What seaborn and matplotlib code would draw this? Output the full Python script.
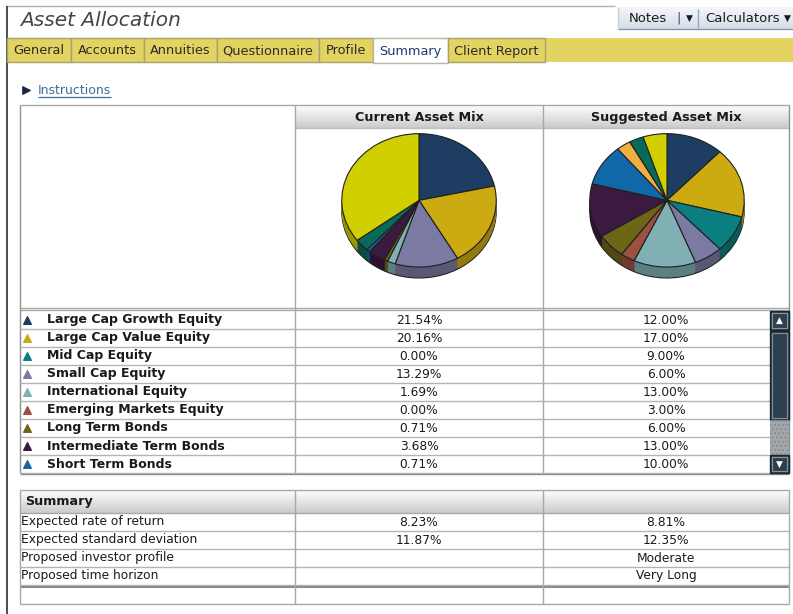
import numpy as np
import matplotlib
matplotlib.use("Agg")
import matplotlib.pyplot as plt
import matplotlib.colors as mcolors
from matplotlib.patches import Rectangle
import seaborn as sns

# ---------------- data ----------------
categories = ["Large Cap Growth Equity", "Large Cap Value Equity", "Mid Cap Equity",
              "Small Cap Equity", "International Equity", "Emerging Markets Equity",
              "Long Term Bonds", "Intermediate Term Bonds", "Short Term Bonds",
              "Other class A", "Other class B", "Other class C"]
current_mix = [21.54, 20.16, 0.00, 13.29, 1.69, 0.00, 0.71, 3.68, 0.71, 0.00, 3.00, 35.22]
suggested_mix = [12.00, 17.00, 9.00, 6.00, 13.00, 3.00, 6.00, 13.00, 10.00, 3.00, 3.00, 5.00]
class_colors = ["#1d3d63", "#cbaa12", "#0b7f7f", "#7b7aa3", "#80b0b4", "#9c5140",
                "#6c6616", "#3c1a40", "#1168a8", "#f0b040", "#0a6a5a", "#d2cf00"]
n_visible = 9  # rows visible in the scrolled list

tabs = ["General", "Accounts", "Annuities", "Questionnaire", "Profile", "Summary", "Client Report"]
active_tab = "Summary"
column_titles = ["Current Asset Mix", "Suggested Asset Mix"]
summary_labels = ["Expected rate of return", "Expected standard deviation",
                  "Proposed investor profile", "Proposed time horizon"]
summary_current = ["8.23%", "11.87%", "", ""]
summary_suggested = ["8.81%", "12.35%", "Moderate", "Very Long"]

# ---------------- figure ----------------
sns.set_theme(style="white")
plt.rcParams["font.family"] = ["DejaVu Sans"]
W, H = 793, 614
fig = plt.figure(figsize=(W / 100, H / 100), dpi=100)
fig.patch.set_facecolor("white")
bg = fig.add_axes([0, 0, 1, 1])
bg.set_xlim(0, W)
bg.set_ylim(H, 0)
bg.axis("off")
bg.set_autoscale_on(False)

GRID = "#a8a8a8"
TXT = "#1a1a1a"


def line(x0, y0, x1, y1, c=GRID, lw=1.0, z=3):
    bg.plot([x0, x1], [y0, y1], color=c, lw=lw, zorder=z, solid_capstyle="butt")


def rect(x0, y0, x1, y1, fc, ec="none", lw=1.0, z=2, **kw):
    bg.add_patch(Rectangle((x0, y0), x1 - x0, y1 - y0, facecolor=fc, edgecolor=ec,
                           lw=lw, zorder=z, **kw))


def grad(x0, x1, y0, y1, ctop, cbot, z=2):
    a = np.array(mcolors.to_rgb(ctop))
    b = np.array(mcolors.to_rgb(cbot))
    t = np.linspace(0, 1, 40)[:, None]
    img = (a * (1 - t) + b * t)[:, None, :]
    bg.imshow(img, extent=(x0, x1, y1, y0), aspect="auto", interpolation="bilinear",
              zorder=z)


# outer frame
line(6, 6, 615, 6, c="#b0b0b0")
line(6.5, 6, 6.5, H, c="#303030", lw=1.2)

# title
bg.text(20, 21, "Asset Allocation", fontsize=14.5, fontstyle="italic", color="#454545",
        va="center", ha="left", zorder=5)

# Notes / Calculators buttons
grad(618, W, 7, 29, "#f4f6fa", "#d5dde9")
line(618, 29, W, 29, c="#8796ad")
line(618, 7, 618, 29, c="#c8cfd8")
line(698, 9, 698, 28, c="#9aa6b8")
bg.text(648, 18, "Notes", fontsize=9.5, color=TXT, ha="center", va="center", zorder=5)
bg.text(679, 17.5, "|", fontsize=9.5, color="#555555", ha="center", va="center", zorder=5)
bg.text(689, 18, "▼", fontsize=6.5, color=TXT, ha="center", va="center", zorder=5)
bg.text(743, 18, "Calculators", fontsize=9.5, color=TXT, ha="center", va="center", zorder=5)
bg.text(787, 18, "▼", fontsize=6.5, color=TXT, ha="center", va="center", zorder=5)

# tab bar
YEL = "#e3d462"
rect(7, 38, W, 62, YEL)
tab_edges = [7, 71, 144, 217, 319, 373, 448, 545]
for i, name in enumerate(tabs):
    x0, x1 = tab_edges[i], tab_edges[i + 1]
    if name == active_tab:
        rect(x0, 38, x1, 63, "white", ec="#b8b8a0", lw=1, z=3)
        col = "#1f3a6a"
    else:
        rect(x0, 38, x1, 62, YEL, ec="#a8a070", lw=1, z=3)
        col = "#2a2a2a"
    bg.text((x0 + x1) / 2, 51, name, fontsize=9.3, color=col, ha="center", va="center", zorder=5)

# instructions link
bg.scatter([26], [89.5], marker=">", s=28, color="#1a2a44", zorder=5)
bg.text(38, 90, "Instructions", fontsize=9, color="#3d6d98", ha="left", va="center", zorder=5)
line(38, 97, 111, 97, c="#3d6d98", lw=0.9)

# ---------------- main table ----------------
X0, XC1, XC2, X1 = 20, 295, 543, 789
SB = 770
top, head_b, pie_b = 105, 128, 308
list_top = 311
row_h = 18
list_b = list_top + row_h * n_visible

for (a, b), ttl in zip([(XC1, XC2), (XC2, X1)], column_titles):
    grad(a, b, top, head_b, "#ffffff", "#cbcbcb")
    bg.text((a + b) / 2, 117.5, ttl, fontsize=9.2, fontweight="bold", color=TXT,
            ha="center", va="center", zorder=5)

line(X0, top, X1, top)
line(XC1, head_b, X1, head_b, c="#c0c0c0")
line(X0, pie_b, X1, pie_b)
line(X0, list_top - 1, X1, list_top - 1)
line(X0, top, X0, list_b, c="#909090")
line(X1, top, X1, list_b, c="#909090")
line(XC1, top, XC1, list_b)
line(XC2, top, XC2, list_b)

# pies (3D look: stacked side layers, then top face)
ry, rx, depth = 67, 78, 11
d = depth / ry
centers_x = [419, 667]
pie_cy = 200
for cx, vals in zip(centers_x, [current_mix, suggested_mix]):
    v = np.array(vals)
    m = v > 0
    cols = [c for c, k in zip(class_colors, m) if k]
    side = [tuple(np.array(mcolors.to_rgb(c)) * 0.72) for c in cols]
    ax = fig.add_axes([(cx - rx) / W, 1 - (pie_cy + ry + depth + 1) / H,
                       2 * rx / W, (2 * ry + depth + 1) / H])
    nl = 14
    for k in range(nl, 0, -1):
        off = -d * k / nl
        ec = "#202020" if k == nl else "none"
        ax.pie(v[m], colors=side, startangle=90, counterclock=False, center=(0, off),
               wedgeprops=dict(edgecolor=ec, linewidth=0.8 if k == nl else 0))
    ax.pie(v[m], colors=cols, startangle=90, counterclock=False, center=(0, 0),
           wedgeprops=dict(edgecolor="#202020", linewidth=0.8))
    ax.set_aspect("auto")
    ax.set_xlim(-1.01, 1.01)
    ax.set_ylim(-1 - d - 0.015, 1.01)
    ax.axis("off")

# list rows
for i in range(n_visible):
    yc = list_top + row_h * i + row_h / 2
    yb = list_top + row_h * (i + 1)
    line(X0, yb, SB, yb, c="#b4b4b4")
    bg.scatter([27], [yc], marker="^", s=30, color=class_colors[i], zorder=5)
    bg.text(47, yc, categories[i], fontsize=9.0, fontweight="bold", color=TXT,
            ha="left", va="center", zorder=5)
    bg.text((XC1 + XC2) / 2, yc, f"{current_mix[i]:.2f}%", fontsize=8.8, color=TXT,
            ha="center", va="center", zorder=5)
    bg.text((XC2 + X1) / 2, yc, f"{suggested_mix[i]:.2f}%", fontsize=8.8, color=TXT,
            ha="center", va="center", zorder=5)

# scrollbar
SL = "#2e404d"
rect(SB, list_top, X1, list_top + 19, SL, ec="#1c262e", z=4)
rect(SB + 2, list_top + 2, X1 - 2, list_top + 17, SL, ec="#8898a4", lw=0.8, z=4)
bg.text((SB + X1) / 2, list_top + 9.5, "▲", fontsize=6.5, color="white", ha="center",
        va="center", zorder=6)
rect(SB, list_top + 20, X1, 420, SL, ec="#1c262e", z=4)
rect(SB + 2, list_top + 22, X1 - 2, 418, SL, ec="#7f909c", lw=0.8, z=4)
rect(SB, 420, X1, list_b - 18, "#a4a8ac", ec="#8a8e92", hatch="....", lw=0.5, z=4)
rect(SB, list_b - 18, X1, list_b, SL, ec="#1c262e", z=4)
rect(SB + 2, list_b - 16, X1 - 2, list_b - 2, SL, ec="#8898a4", lw=0.8, z=4)
bg.text((SB + X1) / 2, list_b - 9, "▼", fontsize=6.5, color="white", ha="center",
        va="center", zorder=6)
line(X0, list_b + 1, X1, list_b + 1, c="#909090")

# ---------------- summary table ----------------
s_top, s_head_b = 490, 513
grad(X0, X1, s_top, s_head_b, "#ffffff", "#cbcbcb")
bg.text(25, 502, "Summary", fontsize=9.2, fontweight="bold", color=TXT, ha="left",
        va="center", zorder=5)
line(X0, s_top, X1, s_top)
line(X0, s_head_b, X1, s_head_b)
for i, lab in enumerate(summary_labels):
    yc = s_head_b + row_h * i + row_h / 2
    yb = s_head_b + row_h * (i + 1)
    line(X0, yb, X1, yb, c="#b4b4b4")
    bg.text(21, yc, lab, fontsize=8.8, color=TXT, ha="left", va="center", zorder=5)
    bg.text((XC1 + XC2) / 2, yc, summary_current[i], fontsize=8.8, color=TXT,
            ha="center", va="center", zorder=5)
    bg.text((XC2 + X1) / 2, yc, summary_suggested[i], fontsize=8.8, color=TXT,
            ha="center", va="center", zorder=5)
s_rows_b = s_head_b + row_h * len(summary_labels)
line(X0, s_rows_b + 1.5, X1, s_rows_b + 1.5, c="#8c8c8c", lw=1.5)
s_bot = s_rows_b + 19
line(X0, s_bot, X1, s_bot)
for x in [X0, XC1, XC2, X1]:
    line(x, s_top, x, s_bot)

fig.savefig("out.png", dpi=100, facecolor="white")
